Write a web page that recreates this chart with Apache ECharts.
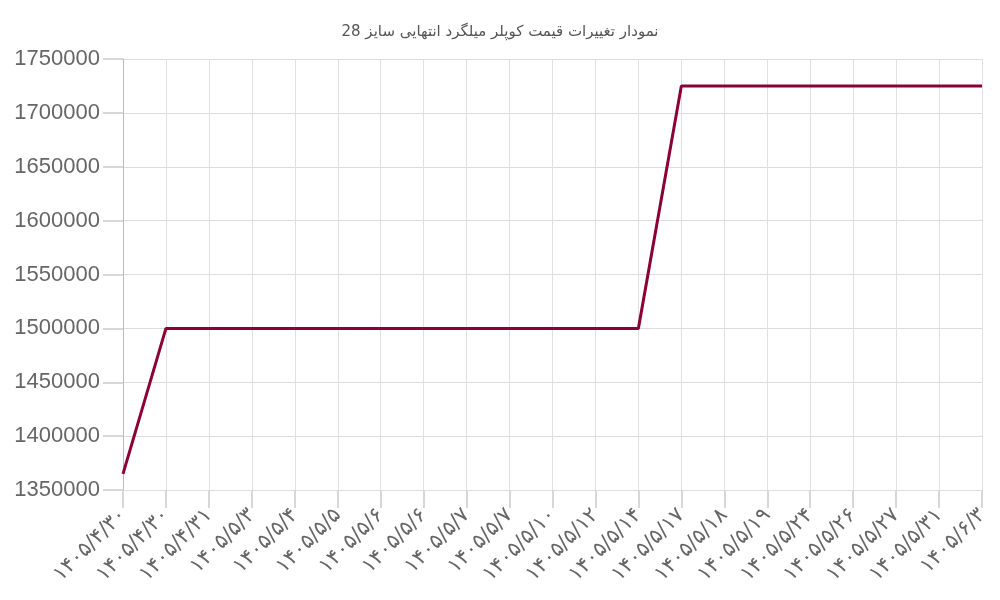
<!DOCTYPE html>
<html><head><meta charset="utf-8">
<script src="https://cdn.jsdelivr.net/npm/echarts@6/dist/echarts.min.js"></script>
<style>html,body{margin:0;padding:0;background:#fff}#c{width:1000px;height:600px}</style>
</head><body><div id="c"></div>
<script>
const titleText = 'نمودار تغییرات قیمت کوپلر میلگرد انتهایی سایز 28';
const categories = ['۱۴۰۵/۴/۳۰','۱۴۰۵/۴/۳۰','۱۴۰۵/۴/۳۱','۱۴۰۵/۵/۳','۱۴۰۵/۵/۴','۱۴۰۵/۵/۵','۱۴۰۵/۵/۶','۱۴۰۵/۵/۶','۱۴۰۵/۵/۷','۱۴۰۵/۵/۷','۱۴۰۵/۵/۱۰','۱۴۰۵/۵/۱۲','۱۴۰۵/۵/۱۴','۱۴۰۵/۵/۱۷','۱۴۰۵/۵/۱۸','۱۴۰۵/۵/۱۹','۱۴۰۵/۵/۲۴','۱۴۰۵/۵/۲۶','۱۴۰۵/۵/۲۷','۱۴۰۵/۵/۳۱','۱۴۰۵/۶/۳'];
const prices = [1365000,1500000,1500000,1500000,1500000,1500000,1500000,1500000,1500000,1500000,1500000,1500000,1500000,1725000,1725000,1725000,1725000,1725000,1725000,1725000,1725000];
const chart = echarts.init(document.getElementById('c'));
chart.setOption({
  animation:false,
  title:{text:titleText,left:'center',top:20,textStyle:{fontFamily:'DejaVu Sans',fontSize:15,fontWeight:'normal',color:'#555'}},
  grid:{left:123,right:18,top:59,bottom:110},
  xAxis:{type:'category',data:categories,boundaryGap:false,
    axisLine:{lineStyle:{color:'#ddd'}},
    axisTick:{show:true,length:18,interval:0,lineStyle:{color:'#d8d8d8',width:2}},
    axisLabel:{interval:0,rotate:45,fontFamily:'DejaVu Sans',fontSize:21,color:'#666',margin:22},
    splitLine:{show:true,interval:0,lineStyle:{color:'#e0e0e0'}}},
  yAxis:{type:'value',min:1350000,max:1750000,interval:50000,
    axisLine:{show:true,lineStyle:{color:'#bbb'}},
    axisTick:{show:true,length:20,lineStyle:{color:'#d8d8d8',width:2}},
    axisLabel:{fontFamily:'Liberation Sans',fontSize:22,color:'#666',margin:23,formatter:v=>String(v)},
    splitLine:{lineStyle:{color:'#ddd'}}},
  series:[{type:'line',data:prices,symbol:'none',lineStyle:{color:'#8b0037',width:3}}]
});
</script></body></html>
